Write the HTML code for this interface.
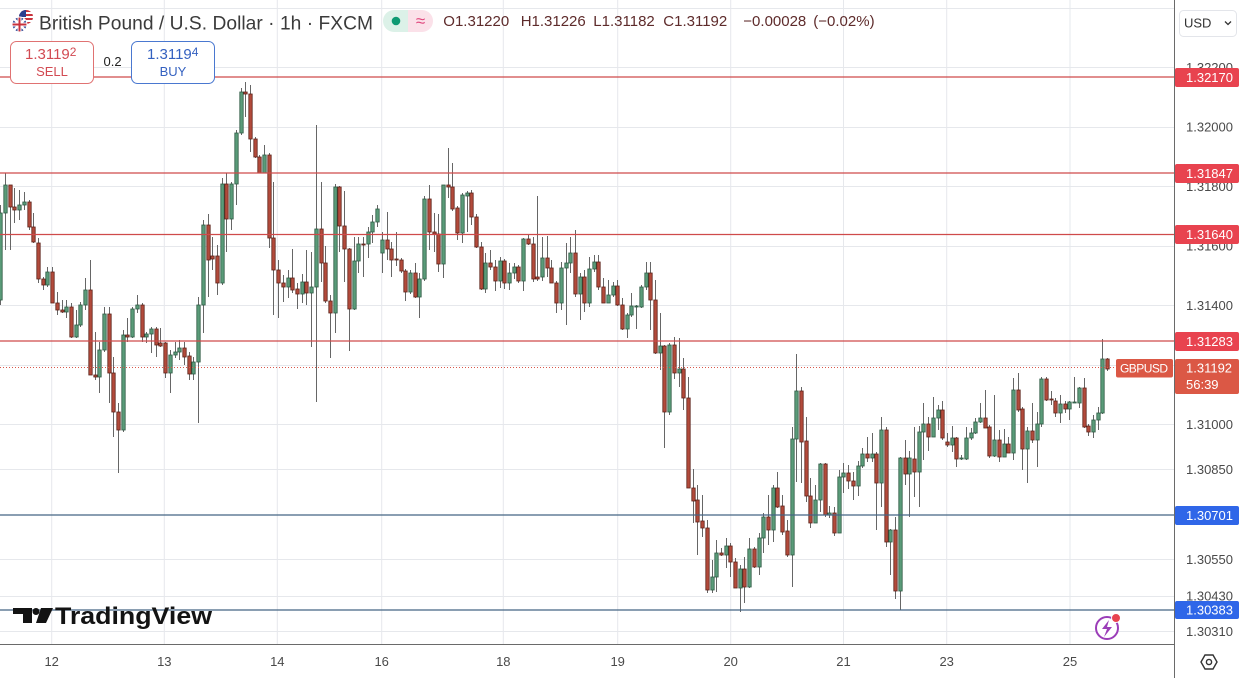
<!DOCTYPE html>
<html><head><meta charset="utf-8">
<style>
html,body{margin:0;padding:0;background:#fff;}
svg{display:block;font-family:"Liberation Sans",Arial,sans-serif;}
</style></head>
<body>
<svg id="c" width="1239" height="678" viewBox="0 0 1239 678" xmlns="http://www.w3.org/2000/svg">
<rect width="1239" height="678" fill="#fff"/>
<g stroke="#e6e8ec" stroke-width="1">
<line x1="0" x2="1174" y1="8.5" y2="8.5"/>
<line x1="0" x2="1174" y1="67.5" y2="67.5"/>
<line x1="0" x2="1174" y1="127.5" y2="127.5"/>
<line x1="0" x2="1174" y1="186.5" y2="186.5"/>
<line x1="0" x2="1174" y1="246.5" y2="246.5"/>
<line x1="0" x2="1174" y1="305.5" y2="305.5"/>
<line x1="0" x2="1174" y1="365.5" y2="365.5"/>
<line x1="0" x2="1174" y1="424.5" y2="424.5"/>
<line x1="0" x2="1174" y1="469.5" y2="469.5"/>
<line x1="0" x2="1174" y1="559.5" y2="559.5"/>
<line x1="0" x2="1174" y1="596.5" y2="596.5"/>
<line x1="0" x2="1174" y1="631.5" y2="631.5"/>
<line x1="51.7" x2="51.7" y1="0" y2="644"/>
<line x1="164.3" x2="164.3" y1="0" y2="644"/>
<line x1="277.3" x2="277.3" y1="0" y2="644"/>
<line x1="381.7" x2="381.7" y1="0" y2="644"/>
<line x1="503.3" x2="503.3" y1="0" y2="644"/>
<line x1="617.7" x2="617.7" y1="0" y2="644"/>
<line x1="730.7" x2="730.7" y1="0" y2="644"/>
<line x1="843.5" x2="843.5" y1="0" y2="644"/>
<line x1="946.7" x2="946.7" y1="0" y2="644"/>
<line x1="1070" x2="1070" y1="0" y2="644"/>
</g>
<g id="candles"></g>
<line x1="0" x2="1116" y1="367.5" y2="367.5" stroke="#d9574a" stroke-width="1" stroke-dasharray="1,2"/>
<g stroke-width="1.2">
<line x1="0" x2="1174" y1="77" y2="77" stroke="#cf4a4a"/>
<line x1="0" x2="1174" y1="173" y2="173" stroke="#cf4a4a"/>
<line x1="0" x2="1174" y1="234.5" y2="234.5" stroke="#cf4a4a"/>
<line x1="0" x2="1174" y1="341" y2="341" stroke="#cf4a4a"/>
<line x1="0" x2="1174" y1="515" y2="515" stroke="#456584"/>
<line x1="0" x2="1174" y1="610" y2="610" stroke="#456584"/>
</g>

<!-- header -->
<circle cx="26" cy="17" r="7" fill="#fff"/>
<g>
<clipPath id="us"><circle cx="26" cy="17" r="7"/></clipPath>
<g clip-path="url(#us)">
<rect x="19" y="10" width="14" height="14" fill="#fff"/>
<rect x="19" y="10" width="14" height="2" fill="#c8323c"/>
<rect x="19" y="14" width="14" height="2" fill="#c8323c"/>
<rect x="19" y="18" width="14" height="2" fill="#c8323c"/>
<rect x="19" y="22" width="14" height="2" fill="#c8323c"/>
<rect x="19" y="10" width="7" height="7" fill="#2a3f8f"/>
</g>
<clipPath id="uk"><circle cx="19.5" cy="24.5" r="7.5"/></clipPath>
<g clip-path="url(#uk)">
<rect x="11" y="16" width="17" height="17" fill="#2a3f8f"/>
<line x1="12" y1="17" x2="27" y2="32" stroke="#fff" stroke-width="2.5"/>
<line x1="27" y1="17" x2="12" y2="32" stroke="#fff" stroke-width="2.5"/>
<rect x="11" y="22.5" width="17" height="4" fill="#fff"/>
<rect x="17.5" y="16" width="4" height="17" fill="#fff"/>
<rect x="11" y="23.5" width="17" height="2" fill="#c8323c"/>
<rect x="18.5" y="16" width="2" height="17" fill="#c8323c"/>
</g>
<circle cx="19.5" cy="24.5" r="7.5" fill="none" stroke="#fff" stroke-width="1"/>
</g>
<text x="39" y="29.3" font-size="19.2" fill="#3b3b3b" textLength="334">British Pound / U.S. Dollar · 1h · FXCM</text>

<rect x="383" y="10" width="40" height="22" rx="11" fill="#dcf1e8"/>
<rect x="408" y="10" width="25" height="22" rx="11" fill="#fbe1e9"/>
<rect x="408" y="10" width="12" height="22" fill="#fbe1e9"/>
<circle cx="396" cy="21" r="4.3" fill="#0e9a73"/>
<text x="420.5" y="26.5" font-size="17" fill="#e0457c" text-anchor="middle">≈</text>

<g font-size="15" fill="#5e2b2b">
<text x="443.3" y="26">O1.31220</text>
<text x="520.7" y="26">H1.31226</text>
<text x="593.3" y="26">L1.31182</text>
<text x="663.3" y="26">C1.31192</text>
<text x="743.3" y="26">−0.00028</text>
<text x="813.3" y="26">(−0.02%)</text>
</g>

<rect x="10.5" y="41.5" width="83" height="42" rx="6" fill="#fff" stroke="#e07272" stroke-width="1"/>
<text x="25" y="59" font-size="15" fill="#d24a52">1.3119<tspan font-size="12" dy="-3">2</tspan></text>
<text x="52" y="76" font-size="13" fill="#d24a52" text-anchor="middle">SELL</text>
<text x="103.5" y="66" font-size="13" fill="#222">0.2</text>
<rect x="131.5" y="41.5" width="83" height="42" rx="6" fill="#fff" stroke="#4a78d0" stroke-width="1"/>
<text x="147" y="59" font-size="15" fill="#3461c0">1.3119<tspan font-size="12" dy="-3">4</tspan></text>
<text x="173" y="76" font-size="13" fill="#3461c0" text-anchor="middle">BUY</text>

<!-- TradingView logo -->
<g fill="#131313">
<rect x="13" y="608" width="19" height="6"/>
<rect x="23" y="608" width="9" height="15"/>
<circle cx="36" cy="611.5" r="3.5"/>
<polygon points="41,608 53,608 46,623 36,623"/>
<text x="55" y="624" font-size="24" font-weight="bold" textLength="157" lengthAdjust="spacingAndGlyphs">TradingView</text>
</g>

<!-- lightning icon -->
<circle cx="1107" cy="628" r="11" fill="#fff" stroke="#9b3db8" stroke-width="2"/>
<path d="M1109,620 L1102,629 L1107,629 L1104,637 L1112,627 L1107,627 Z" fill="#9b3db8"/>
<circle cx="1116" cy="618" r="4.5" fill="#e8434f" stroke="#fff" stroke-width="1"/>

<!-- axes -->
<line x1="1174.5" x2="1174.5" y1="0" y2="678" stroke="#6a6a6a" stroke-width="1"/>
<line x1="0" x2="1174" y1="644.5" y2="644.5" stroke="#6a6a6a" stroke-width="1"/>

<g font-size="13" fill="#4a4a4a" text-anchor="middle">
<text x="51.7" y="666">12</text>
<text x="164.3" y="666">13</text>
<text x="277.3" y="666">14</text>
<text x="381.7" y="666">16</text>
<text x="503.3" y="666">18</text>
<text x="617.7" y="666">19</text>
<text x="730.7" y="666">20</text>
<text x="843.5" y="666">21</text>
<text x="946.7" y="666">23</text>
<text x="1070" y="666">25</text>
</g>

<g font-size="13" fill="#4a4a4a">
<text x="1186" y="72">1.32200</text>
<text x="1186" y="131.5">1.32000</text>
<text x="1186" y="191">1.31800</text>
<text x="1186" y="250.5">1.31600</text>
<text x="1186" y="310">1.31400</text>
<text x="1186" y="429">1.31000</text>
<text x="1186" y="474">1.30850</text>
<text x="1186" y="564">1.30550</text>
<text x="1186" y="600.5">1.30430</text>
<text x="1186" y="636">1.30310</text>
</g>

<g font-size="13" fill="#fff">
<rect x="1175" y="68" width="64" height="19" rx="2" fill="#e8434f"/>
<text x="1186" y="82">1.32170</text>
<rect x="1175" y="164" width="64" height="19" rx="2" fill="#e8434f"/>
<text x="1186" y="178">1.31847</text>
<rect x="1175" y="225" width="64" height="19" rx="2" fill="#e8434f"/>
<text x="1186" y="239">1.31640</text>
<rect x="1175" y="332" width="64" height="19" rx="2" fill="#e8434f"/>
<text x="1186" y="346">1.31283</text>
<rect x="1175" y="359" width="64" height="35" rx="2" fill="#db5845"/>
<text x="1186" y="372.5">1.31192</text>
<text x="1186" y="389">56:39</text>
<rect x="1116" y="359" width="57" height="18.5" rx="2" fill="#db5845"/>
<text x="1120" y="372.5" font-size="12" textLength="48">GBPUSD</text>
<rect x="1175" y="506" width="64" height="19" rx="2" fill="#2f66e8"/>
<text x="1186" y="520">1.30701</text>
<rect x="1175" y="601" width="64" height="18" rx="2" fill="#2f66e8"/>
<text x="1186" y="614.5">1.30383</text>
</g>

<!-- USD dropdown -->
<rect x="1179.5" y="10.5" width="57" height="26" rx="4" fill="#fff" stroke="#e3e5ea"/>
<text x="1184" y="27.5" font-size="13" fill="#333">USD</text>
<path d="M1225,21.5 L1228,24.5 L1231,21.5" fill="none" stroke="#333" stroke-width="1.3"/>

<!-- settings hexagon -->
<polygon points="1201,662 1205,655 1213,655 1217,662 1213,669 1205,669" fill="none" stroke="#333" stroke-width="1.4"/>
<circle cx="1209" cy="662" r="2.6" fill="none" stroke="#333" stroke-width="1.4"/>
</svg>
<script>
(function(){
var d=[[300,213,205,305],[213,185,173,250],[185,207,185,250],[207,210,188,223],[210,205,190,220],[205,202,192,210],[202,227,200,230],[227,242,213,243],[243,279,238,283],[279,285,277,290],
[285,272,267,287],[272,303,267,303],[303,310,292,315],[310,312,300,313],[312,307,300,318],[307,337,303,338],[337,325,310,338],[325,305,302,327],[305,290,278,310],[290,375,260,375],
[375,377,332,380],[377,350,342,393],[350,314,307,352],[314,373,307,403],[373,412,357,437],[412,430,403,473],[430,335,330,432],[335,337,318,342],[337,309,307,338],[309,305,295,313],
[305,337,303,342],[337,334,332,343],[334,329,327,353],[329,345,327,357],[343,346,328,347],[343,373,342,378],[373,355,350,393],[355,352,342,358],[352,348,340,360],[348,357,342,365],
[356,374,352,380],[374,362,357,380],[362,305,297,423],[305,225,220,333],[225,260,214,297],[256,259,237,270],[256,283,245,295],[283,184,178,285],[184,219,173,252],[219,184,182,230],
[184,133,130,205],[133,92,88,135],[92,94,82,117],[94,139,85,152],[139,157,137,158],[157,173,155,173],[173,155,145,173],[155,238,153,248],[238,270,182,315],[270,283,260,318],
[283,287,275,302],[287,278,270,298],[278,290,249,293],[289,294,283,309],[294,282,274,303],[282,293,250,305],[293,287,252,347],[287,229,125,402],[229,263,182,282],[263,301,246,303],
[301,313,295,358],[313,187,184,333],[187,226,186,252],[226,249,191,282],[249,309,248,351],[309,261,237,310],[261,244,237,273],[244,245,237,277],[244,232,227,258],[232,222,215,243],
[222,209,205,227],[253,240,232,273],[240,249,212,260],[249,260,242,277],[259,260,232,266],[260,271,258,273],[271,292,269,301],[292,273,270,294],[273,297,263,298],[297,279,273,318],
[279,199,196,281],[199,232,185,250],[232,234,213,252],[234,264,214,272],[264,185,185,278],[185,187,148,198],[187,209,163,211],[208,233,206,240],[233,195,193,243],[196,193,191,232],
[193,217,190,225],[217,247,214,248],[247,289,242,290],[289,263,253,293],[263,267,250,270],[267,281,260,291],[281,261,257,288],[261,283,259,289],[283,273,263,290],[273,267,263,279],
[267,281,265,283],[281,239,238,291],[239,244,235,245],[244,279,237,282],[277,279,196,281],[277,258,237,281],[258,268,236,277],[268,283,260,283],[283,303,281,313],[303,268,262,310],
[268,263,243,325],[263,253,237,273],[253,294,230,297],[294,277,273,320],[277,303,270,312],[303,269,257,307],[269,262,255,272],[262,287,255,290],[287,303,278,303],[303,295,280,303],
[295,286,282,297],[286,305,280,306],[305,329,298,330],[329,315,313,338],[315,306,293,317],[306,306,305,329],[307,287,285,308],[287,273,262,290],[273,300,262,330],[300,353,280,354],
[353,346,313,370],[346,412,345,448],[412,345,343,415],[345,373,337,379],[373,369,338,387],[369,398,358,410],[398,488,377,488],[488,501,469,523],[500,522,485,555],[521,528,495,537],
[528,590,520,593],[590,577,560,593],[577,553,540,592],[553,555,548,556],[555,546,538,568],[546,562,543,577],[562,588,558,588],[588,569,565,612],[569,587,557,603],[587,549,538,588],
[549,567,547,568],[567,538,533,575],[538,517,513,553],[517,530,495,545],[530,488,485,542],[488,507,472,508],[506,532,495,535],[531,555,520,557],[555,439,427,587],[439,391,354,482],
[391,442,387,483],[441,496,417,502],[496,523,478,528],[523,500,485,523],[500,464,463,512],[464,515,463,517],[515,513,506,518],[513,533,507,536],[533,477,470,533],[477,473,463,493],
[473,481,465,489],[481,486,472,500],[486,466,461,496],[466,454,448,468],[454,458,437,462],[458,454,433,462],[454,483,452,530],[483,430,417,507],[430,542,427,547],[542,530,529,575],
[530,591,517,599],[591,458,457,610],[458,474,440,485],[474,458,451,517],[459,472,427,497],[472,432,426,507],[432,424,403,460],[424,437,417,451],[437,418,397,437],[418,410,405,430],
[410,438,401,440],[442,445,433,447],[445,438,426,452],[438,459,437,467],[459,458,455,460],[459,438,427,460],[438,433,428,440],[433,422,418,434],[422,418,403,423],[418,428,390,428],
[427,456,425,458],[456,440,395,457],[440,457,430,462],[457,444,429,457],[444,453,437,453],[453,390,378,460],[390,410,373,412],[409,449,407,470],[449,431,427,483],[431,440,403,443],
[440,424,412,467],[424,379,377,427],[379,400,377,401],[399,400,391,405],[401,413,398,417],[413,404,395,423],[404,409,401,413],[409,402,401,420],[402,402,377,403],[403,388,387,408],
[388,427,378,428],[426,432,424,436],[432,420,415,438],[420,413,407,430],[413,359,339,414],[359,369,358,371]];
var NS="http://www.w3.org/2000/svg";
var g=document.getElementById("candles");
function el(n,a){var e=document.createElementNS(NS,n);for(var k in a)e.setAttribute(k,String(a[k]));g.appendChild(e);}
for(var i=0;i<d.length;i++){
 var o=d[i][0],c=d[i][1],h=d[i][2],l=d[i][3];
 var cx=Math.round(0.3+4.71*i)+0.5;
 var up=c<=o;
 var bt=Math.min(o,c),bh=Math.max(Math.abs(o-c),1);
 el("line",{x1:cx,x2:cx,y1:Math.min(h,bt),y2:Math.max(l,bt+bh),stroke:"#666","stroke-width":1});
 el("rect",{x:cx-1.7,y:bt,width:3.4,height:bh,fill:up?"#5a9b79":"#b24a3b",stroke:up?"#2e5b44":"#5c2219","stroke-width":0.8});
}
})();
</script>
</body></html>
